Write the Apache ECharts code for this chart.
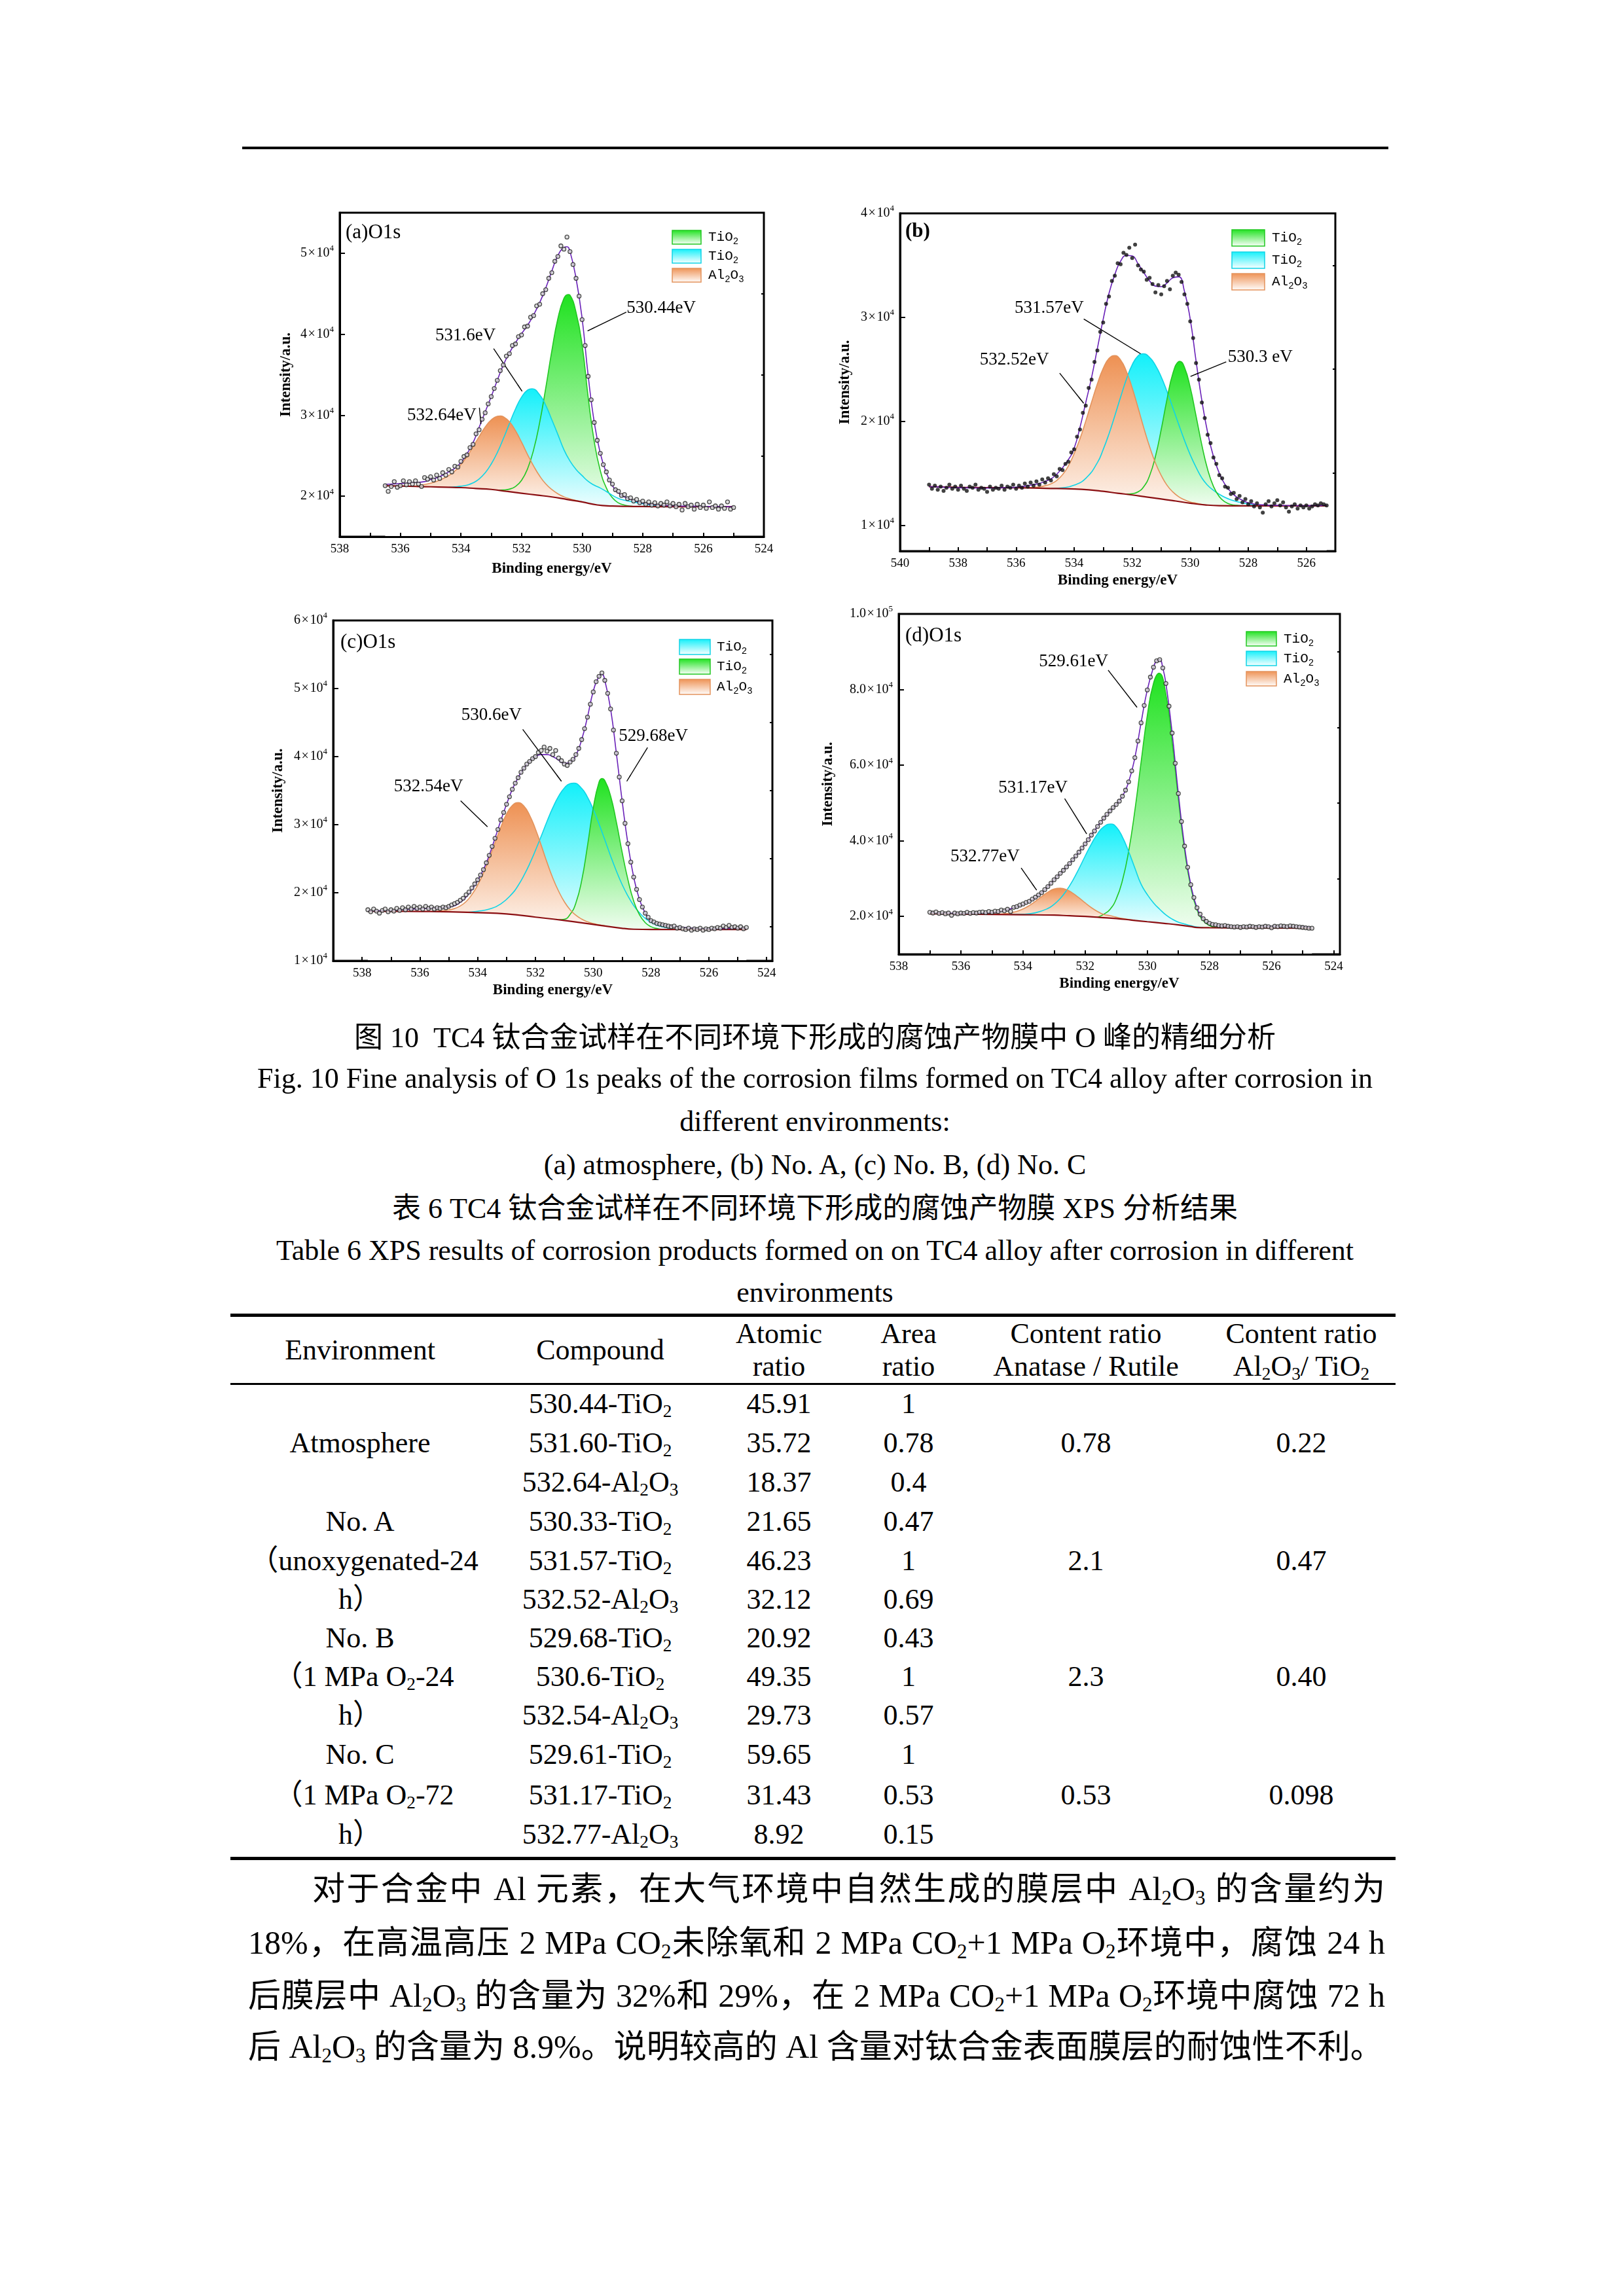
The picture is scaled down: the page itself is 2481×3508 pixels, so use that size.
<!DOCTYPE html>
<html><head><meta charset="utf-8">
<script src="https://cdn.jsdelivr.net/npm/echarts@6/dist/echarts.min.js"></script>
<style>
html,body{margin:0;padding:0;background:#fff;}
#page{position:relative;width:2481px;height:3508px;background:#fff;overflow:hidden;font-family:"Liberation Serif","Noto Sans CJK SC",serif;color:#000;}
#chart{position:absolute;left:0;top:0;width:2481px;height:1560px;}
.cap{position:absolute;left:0;width:2490px;text-align:center;font-size:44px;line-height:60px;white-space:pre;}
.cell{position:absolute;transform:translate(-50%,-50%);font-size:44px;line-height:50px;white-space:pre;text-align:center;}
.rule{position:absolute;background:#000;}
.para{position:absolute;font-size:50px;line-height:80px;height:80px;white-space:normal;}
.just{text-align:justify;text-align-last:justify;}
sub{font-size:0.62em;vertical-align:-0.22em;line-height:0;}
</style></head>
<body><div id="page"><div id="chart"></div></div>
<script>
// ---------------- DATA ----------------
// (a) atmosphere
const bgA=[[536.5,21300],[536,21260],[535.5,21200],[535,21160],[534.5,21110],[534,21060],[533.5,20950],[533,20840],[532.5,20600],[532,20370],[531.5,20140],[531,19910],[530.5,19600],[530,19290],[529.5,18920],[529,18790],[528.5,18740],[528,18720],[527,18710],[526,18700],[525,18700]];
const alA=[[535.6,21220],[535.4,21330],[535.2,21450],[535,21600],[534.8,21820],[534.6,22150],[534.4,22550],[534.2,23100],[534,23900],[533.8,24900],[533.6,26100],[533.4,27350],[533.2,28530],[533,29420],[532.8,29870],[532.7,29910],[532.6,29815],[532.4,29200],[532.2,28090],[532,26680],[531.8,25140],[531.6,23720],[531.4,22490],[531.2,21520],[531,20820],[530.8,20295],[530.6,19920],[530.4,19670],[530.2,19465],[530,19300]];
const tiA1=[[532.8,20750],[532.6,20770],[532.4,20870],[532.2,21200],[532,21950],[531.8,23390],[531.6,25740],[531.4,29110],[531.2,33360],[531,37930],[530.8,41930],[530.6,44420],[530.46,44900],[530.4,44830],[530.2,42710],[530,38690],[529.8,32230],[529.6,26760],[529.4,23160],[529.2,21030],[529,19800],[528.8,19170],[528.6,18900],[528.4,18780],[528.2,18730],[528,18720]];
const tiA2=[[534.4,21100],[534.2,21160],[534,21230],[533.8,21370],[533.6,21640],[533.4,22120],[533.2,22880],[533,23970],[532.8,25380],[532.6,27100],[532.4,28950],[532.2,30760],[532,32220],[531.8,33100],[531.65,33260],[531.4,32510],[531.2,31220],[531,29440],[530.8,27620],[530.6,25740],[530.4,24340],[530.2,23310],[530,22540],[529.8,21830],[529.6,21360],[529.4,21010],[529.2,20580],[529,20100],[528.8,19720],[528.6,19500],[528.4,19340],[528.2,19210],[528,19070],[527.8,18940],[527.6,18820],[527.4,18720]];
const envA=[[536.5,21460],[536,21560],[535.6,21680],[535.2,21800],[535,22050],[534.8,22270],[534.6,22600],[534.4,23010],[534.2,23460],[534,24150],[533.8,25240],[533.6,26600],[533.4,28500],[533.2,30400],[533,32300],[532.8,34300],[532.6,36200],[532.4,37700],[532.2,38950],[532,40050],[531.8,41100],[531.6,42400],[531.4,43900],[531.2,45700],[531,47800],[530.8,49700],[530.6,50700],[530.5,50800],[530.4,50200],[530.2,46900],[530,41950],[529.8,34900],[529.6,29150],[529.4,25300],[529.2,22900],[529,21300],[528.8,20400],[528.6,19900],[528.4,19600],[528.2,19350],[528,19150],[527.6,18950],[527,18820],[526,18750],[525,18700]];
const dotsA=[[536.5,21300],[536.4,20600],[536.3,21200],[536.2,21800],[536.1,21100],[536,21300],[535.9,21900],[535.8,21400],[535.7,21800],[535.6,21500],[535.5,21900],[535.4,21500],[535.3,21200],[535.2,22300],[535.1,22100],[535,22400],[534.9,22000],[534.8,22600],[534.7,22200],[534.6,22900],[534.5,22600],[534.4,23300],[534.3,23000],[534.2,23700],[534.1,23600],[534,24300],[533.9,24900],[533.8,25100],[533.7,26000],[533.6,26400],[533.5,27700],[533.4,28200],[533.3,29500],[533.2,30300],[533.1,31400],[533,32300],[532.9,33300],[532.8,34300],[532.7,35500],[532.6,36200],[532.5,37300],[532.4,37600],[532.3,38600],[532.2,38800],[532.1,39700],[532,39900],[531.9,40900],[531.8,41000],[531.7,42100],[531.6,42300],[531.5,43500],[531.4,43700],[531.3,45000],[531.2,45500],[531.1,46900],[531,47600],[530.9,49000],[530.8,49600],[530.7,50900],[530.6,50500],[530.5,52000],[530.4,50200],[530.3,48600],[530.2,46900],[530.1,44700],[530,41800],[529.9,38600],[529.8,34800],[529.7,31900],[529.6,29100],[529.5,26900],[529.4,25300],[529.3,23900],[529.2,23000],[529.1,22000],[529,21500],[528.9,20800],[528.8,20600],[528.7,20100],[528.6,20200],[528.5,19700],[528.4,19800],[528.3,19400],[528.2,19600],[528.1,19200],[528,19400],[527.9,19000],[527.8,19300],[527.7,18900],[527.6,19200],[527.5,18800],[527.4,19100],[527.3,18900],[527.2,19300],[527.1,18800],[527,19100],[526.9,18700],[526.8,19000],[526.7,18300],[526.6,19100],[526.5,18700],[526.4,18900],[526.3,18400],[526.2,19000],[526.1,18600],[526,18900],[525.9,18500],[525.8,19300],[525.7,18600],[525.6,18800],[525.5,18400],[525.4,18800],[525.3,18500],[525.2,19300],[525.1,18400],[525,18600]];

// (b) No. A
const bgB=[[539,13700],[538,13640],[537,13610],[536,13600],[535,13540],[534,13480],[533.5,13400],[533,13250],[532.5,13070],[532,12900],[531.5,12700],[531,12520],[530.5,12320],[530,12110],[529.5,11950],[529,11870],[528,11850],[527,11850],[526,11850],[525.3,11850]];
const alB=[[535.6,13580],[535.4,13620],[535.2,13680],[535,13790],[534.8,13970],[534.6,14300],[534.4,14850],[534.2,15690],[534,16880],[533.8,18310],[533.6,20010],[533.4,21830],[533.2,23590],[533,25080],[532.8,26040],[532.6,26320],[532.4,25890],[532.2,24790],[532,23200],[531.8,21310],[531.6,19350],[531.4,17540],[531.2,15990],[531,14780],[530.8,13840],[530.6,13190],[530.4,12740],[530.2,12440],[530,12230],[529.8,12110],[529.6,11990]];
const tiB2=[[534.8,13520],[534.4,13590],[534,13840],[533.6,14500],[533.2,16010],[533,17270],[532.8,18780],[532.6,20510],[532.4,22310],[532.2,24030],[532,25430],[531.8,26280],[531.62,26490],[531.4,26140],[531.2,25380],[531,24260],[530.8,22850],[530.6,21300],[530.4,19710],[530.2,18170],[530,16770],[529.8,15570],[529.6,14540],[529.4,13830],[529.2,13350],[529,12970],[528.8,12660],[528.6,12430],[528.4,12270],[528.2,12150],[528,12030],[527.8,11930],[527.6,11850]];
const tiB1=[[532.2,12990],[532,13030],[531.8,13200],[531.6,13700],[531.4,14760],[531.2,16600],[531,19200],[530.8,22120],[530.6,24590],[530.4,25740],[530.36,25760],[530.2,25190],[530,23250],[529.8,20510],[529.6,17710],[529.4,15360],[529.2,13730],[529,12740],[528.8,12230],[528.6,11990],[528.4,11900],[528.2,11850]];
const envB=[[539,13700],[538.5,13650],[538,13600],[537.5,13580],[537,13560],[536.5,13600],[536,13650],[535.5,13850],[535,14200],[534.6,14900],[534.2,16300],[534,17400],[533.8,19400],[533.6,21800],[533.4,24200],[533.2,27000],[533,29800],[532.8,32300],[532.6,34100],[532.4,35400],[532.2,35950],[532,35900],[531.8,35160],[531.6,34300],[531.4,33500],[531.2,33000],[531,32950],[530.8,33300],[530.6,33800],[530.4,33900],[530.2,32500],[530,29800],[529.8,25800],[529.6,22000],[529.4,18900],[529.2,16600],[529,15000],[528.8,13900],[528.6,13200],[528.4,12700],[528.2,12400],[528,12150],[527.5,11950],[527,11900],[526,11870],[525.3,11900]];
const dotsB=[[539,13900],[538.9,13500],[538.8,13800],[538.7,13400],[538.6,13700],[538.5,13300],[538.4,13600],[538.3,13900],[538.2,13500],[538.1,13700],[538,13400],[537.9,13800],[537.8,13500],[537.7,13300],[537.6,13700],[537.5,13600],[537.4,13900],[537.3,13400],[537.2,13600],[537.1,13500],[537,13200],[536.9,13700],[536.8,13400],[536.7,13600],[536.6,13500],[536.5,13800],[536.4,13400],[536.3,13700],[536.2,13600],[536.1,13900],[536,13500],[535.9,13800],[535.8,13600],[535.7,14000],[535.6,13700],[535.5,14100],[535.4,13800],[535.3,14200],[535.2,13900],[535.1,14400],[535,14100],[534.9,14500],[534.8,14300],[534.7,14900],[534.6,14700],[534.5,15400],[534.4,15300],[534.3,15900],[534.2,16100],[534.1,17000],[534,17300],[533.9,18500],[533.8,19200],[533.7,20800],[533.6,21500],[533.5,23200],[533.4,24000],[533.3,25700],[533.2,26800],[533.1,28600],[533,29500],[532.9,31300],[532.8,32000],[532.7,33500],[532.6,34000],[532.5,35200],[532.4,35100],[532.3,36200],[532.2,36000],[532.1,36700],[532,35700],[531.9,37000],[531.8,35000],[531.7,34600],[531.6,34400],[531.5,33600],[531.4,33800],[531.3,33200],[531.2,32400],[531.1,33100],[531,32200],[530.9,33000],[530.8,33500],[530.7,32700],[530.6,34000],[530.5,34300],[530.4,34100],[530.3,33400],[530.2,32200],[530.1,31300],[530,29600],[529.9,28000],[529.8,25600],[529.7,24000],[529.6,21800],[529.5,20300],[529.4,18700],[529.3,17900],[529.2,16500],[529.1,15900],[529,14800],[528.9,14500],[528.8,13700],[528.7,13600],[528.6,13000],[528.5,13100],[528.4,12500],[528.3,12800],[528.2,12200],[528.1,12500],[528,12000],[527.9,12300],[527.8,11800],[527.7,12100],[527.6,11700],[527.5,11200],[527.4,12000],[527.3,12300],[527.2,11800],[527.1,12100],[527,12400],[526.9,11900],[526.8,12200],[526.7,11700],[526.6,11300],[526.5,11800],[526.4,12000],[526.3,11600],[526.2,11900],[526.1,11700],[526,11900],[525.9,11600],[525.8,11800],[525.7,12000],[525.6,11900],[525.5,12100],[525.4,12000],[525.3,11900]];

// (c) No. B
const bgC=[[537.8,17300],[537,17280],[536,17250],[535,17200],[534,17070],[533,16880],[532,16420],[531,15920],[530,15350],[529,14780],[528.6,14640],[528,14600],[527,14600],[526,14600],[524.7,14600]];
const alC=[[535.6,17230],[535.4,17280],[535.2,17350],[535,17470],[534.8,17680],[534.6,18070],[534.4,18700],[534.2,19730],[534,21110],[533.8,22890],[533.6,25030],[533.4,27340],[533.2,29610],[533,31570],[532.8,32820],[532.6,33240],[532.4,32730],[532.2,31370],[532,29350],[531.8,26960],[531.6,24460],[531.4,22160],[531.2,20240],[531,18680],[530.8,17510],[530.6,16690],[530.4,16130],[530.2,15740],[530,15480],[529.8,15290],[529.6,15130]];
const tiC2=[[534.4,17120],[534,17280],[533.6,17590],[533.2,18360],[532.8,19890],[532.6,21060],[532.4,22540],[532.2,24260],[532,26220],[531.8,28320],[531.6,30480],[531.4,32480],[531.2,34170],[531,35390],[530.8,36040],[530.67,36100],[530.4,35340],[530.2,34060],[530,32260],[529.8,30110],[529.6,27780],[529.4,25410],[529.2,23200],[529,21200],[528.8,19530],[528.6,18120],[528.4,17060],[528.2,16230],[528,15660],[527.8,15250],[527.6,15000],[527.4,14800],[527.2,14650],[527,14600]];
const tiC1=[[531.2,16020],[531,16100],[530.8,16820],[530.6,18500],[530.4,21790],[530.2,26870],[530,32430],[529.8,36260],[529.69,36780],[529.6,36480],[529.4,34230],[529.2,30390],[529,25950],[528.8,21930],[528.6,18780],[528.4,16760],[528.2,15600],[528,15010],[527.8,14750],[527.6,14600]];
const envC=[[537.8,17340],[537,17400],[536.5,17550],[536,17650],[535.5,17750],[535,17900],[534.6,18600],[534.3,19900],[534,21800],[533.8,23400],[533.6,25500],[533.4,28000],[533.2,30600],[533,33000],[532.8,35200],[532.6,36900],[532.4,38300],[532.2,39300],[532,40000],[531.8,40300],[531.6,40300],[531.4,40000],[531.2,39500],[531,39000],[530.8,39200],[530.6,40200],[530.4,42500],[530.2,45800],[530,49600],[529.8,51800],[529.7,52100],[529.6,51200],[529.4,47000],[529.2,40500],[529,33500],[528.8,27200],[528.6,22300],[528.4,19000],[528.2,17000],[528,15900],[527.6,15300],[527,14950],[526,14700],[525,14800],[524.7,14800]];
const dotsC=[[537.8,17500],[537.7,17200],[537.6,17600],[537.5,17300],[537.4,17000],[537.3,17400],[537.2,17600],[537.1,17200],[537,17500],[536.9,17300],[536.8,17700],[536.7,17400],[536.6,17800],[536.5,17500],[536.4,17900],[536.3,17600],[536.2,18000],[536.1,17700],[536,17900],[535.9,17600],[535.8,18000],[535.7,17700],[535.6,17900],[535.5,17600],[535.4,17800],[535.3,17700],[535.2,17900],[535.1,17800],[535,18000],[534.9,18200],[534.8,18400],[534.7,18600],[534.6,18900],[534.5,19200],[534.4,19700],[534.3,20100],[534.2,20700],[534.1,21300],[534,21900],[533.9,22600],[533.8,23400],[533.7,24400],[533.6,25500],[533.5,26800],[533.4,28000],[533.3,29300],[533.2,30700],[533.1,31800],[533,33000],[532.9,34100],[532.8,35200],[532.7,36100],[532.6,36900],[532.5,37700],[532.4,38300],[532.3,38900],[532.2,39300],[532.1,39700],[532,40000],[531.9,40600],[531.8,40900],[531.7,41400],[531.6,40800],[531.5,41200],[531.4,40300],[531.3,40900],[531.2,39800],[531.1,39400],[531,38900],[530.9,38700],[530.8,39200],[530.7,39600],[530.6,40300],[530.5,41200],[530.4,42500],[530.3,44100],[530.2,45800],[530.1,47700],[530,49500],[529.9,51000],[529.8,51800],[529.7,52300],[529.6,51200],[529.5,49300],[529.4,47000],[529.3,43900],[529.2,40500],[529.1,37000],[529,33500],[528.9,30200],[528.8,27200],[528.7,24500],[528.6,22300],[528.5,20500],[528.4,19000],[528.3,17900],[528.2,17000],[528.1,16400],[528,15900],[527.9,15700],[527.8,15500],[527.7,15400],[527.6,15300],[527.5,15200],[527.4,15100],[527.3,15000],[527.2,15100],[527.1,14800],[527,14900],[526.9,14700],[526.8,14600],[526.7,14800],[526.6,14500],[526.5,14700],[526.4,14600],[526.3,14800],[526.2,14500],[526.1,14700],[526,14600],[525.9,14800],[525.8,14700],[525.7,14900],[525.6,14800],[525.5,15100],[525.4,14900],[525.3,15200],[525.2,14900],[525.1,15000],[525,14800],[524.9,15000],[524.8,14700],[524.7,14900]];

// (d) No. C
const bgD=[[537,20690],[536,20620],[535,20550],[534,20460],[533,20350],[532.5,20180],[532,20000],[531.5,19730],[531,19450],[530.5,19030],[530,18610],[529.5,18200],[529,17780],[528.6,17320],[528.4,17090],[528,17020],[527,16960],[526,16920],[524.7,16880]];
const alD=[[535,20570],[534.8,20630],[534.6,20725],[534.4,20950],[534.2,21340],[534,21980],[533.8,22880],[533.6,24010],[533.4,25270],[533.2,26410],[533,27240],[532.8,27460],[532.6,27090],[532.4,26170],[532.2,24940],[532,23590],[531.8,22330],[531.6,21300],[531.4,20530],[531.2,20200],[531,19800],[530.8,19450],[530.6,19200],[530.4,18980]];
const tiD2=[[534.4,20560],[534,20600],[533.6,20970],[533.2,22100],[533,23210],[532.8,24760],[532.6,26860],[532.4,29500],[532.2,32620],[532,35960],[531.8,39160],[531.6,41870],[531.4,43720],[531.17,44430],[531,43650],[530.8,41020],[530.6,37160],[530.4,32810],[530.2,28540],[530,25800],[529.8,23600],[529.6,21900],[529.4,20400],[529.2,19300],[529,18500],[528.8,18000],[528.6,17550],[528.4,17200],[528.2,17060]];
const tiD1=[[531.6,19780],[531.4,20590],[531.2,21860],[531,24600],[530.8,29520],[530.6,37210],[530.4,48000],[530.2,60790],[530,73100],[529.8,81660],[529.62,84310],[529.4,78740],[529.2,66230],[529,51140],[528.8,37600],[528.6,27760],[528.4,21780],[528.2,18910],[528,17620],[527.8,17100],[527.6,16990]];
const envD=[[537,21040],[536.5,20900],[536,20830],[535.5,20900],[535,21040],[534.6,21600],[534.2,22600],[533.8,24000],[533.4,26300],[533,29700],[532.6,33100],[532.2,37000],[531.8,41500],[531.4,46000],[531,49600],[530.8,51800],[530.6,55600],[530.4,62000],[530.2,71200],[530,79900],[529.8,85900],[529.7,87600],[529.6,87900],[529.5,85700],[529.4,81600],[529.2,68500],[529,52500],[528.8,38600],[528.6,28400],[528.4,22300],[528.2,19400],[528,18200],[527.6,17500],[527.2,17300],[527,17230],[526,17370],[525,17300],[524.7,16950]];
const dotsD=[[537,21100],[536.9,20900],[536.8,21200],[536.7,20800],[536.6,21000],[536.5,20700],[536.4,20900],[536.3,20300],[536.2,20900],[536.1,20700],[536,20900],[535.9,20800],[535.8,21100],[535.7,20800],[535.6,21000],[535.5,20900],[535.4,21100],[535.3,21200],[535.2,21000],[535.1,21300],[535,21100],[534.9,21400],[534.8,21300],[534.7,21700],[534.6,21500],[534.5,21900],[534.4,21300],[534.3,22400],[534.2,22600],[534.1,23000],[534,23300],[533.9,23700],[533.8,24000],[533.7,24600],[533.6,25100],[533.5,25700],[533.4,26300],[533.3,27100],[533.2,27900],[533.1,28800],[533,29700],[532.9,30500],[532.8,31400],[532.7,32200],[532.6,33100],[532.5,34000],[532.4,35000],[532.3,36000],[532.2,37000],[532.1,38100],[532,39200],[531.9,40300],[531.8,41500],[531.7,42600],[531.6,43800],[531.5,44900],[531.4,46000],[531.3,47000],[531.2,47900],[531.1,48800],[531,49600],[530.9,50500],[530.8,51800],[530.7,53400],[530.6,55600],[530.5,58500],[530.4,62000],[530.3,66400],[530.2,71200],[530.1,75800],[530,79900],[529.9,83300],[529.8,85900],[529.7,87600],[529.6,87900],[529.5,85700],[529.4,81600],[529.3,75600],[529.2,68500],[529.1,60500],[529,52500],[528.9,45100],[528.8,38600],[528.7,33000],[528.6,28400],[528.5,25000],[528.4,22300],[528.3,20600],[528.2,19400],[528.1,18700],[528,18200],[527.9,17900],[527.8,17800],[527.7,17600],[527.6,17500],[527.5,17600],[527.4,17400],[527.3,17300],[527.2,17200],[527.1,17300],[527,17100],[526.9,17300],[526.8,17200],[526.7,17400],[526.6,17300],[526.5,17100],[526.4,17300],[526.3,17200],[526.2,17400],[526.1,17300],[526,17000],[525.9,17400],[525.8,17300],[525.7,17500],[525.6,17400],[525.5,17300],[525.4,17500],[525.3,17400],[525.2,17300],[525.1,17200],[525,17100],[524.9,17000],[524.8,16900],[524.7,16900]];

// axis ticks / labels
const xTicksA=[524,525,526,527,528,529,530,531,532,533,534,535,536,537,538];
const xLabelsA=[524,526,528,530,532,534,536,538];
const xTicksB=[525,526,527,528,529,530,531,532,533,534,535,536,537,538,539,540];
const xLabelsB=[526,528,530,532,534,536,538,540];
const xTicksC=[524,525,526,527,528,529,530,531,532,533,534,535,536,537,538,539];
const xLabelsC=[524,526,528,530,532,534,536,538];
const xTicksD=[524,525,526,527,528,529,530,531,532,533,534,535,536,537,538];
const xLabelsD=[524,526,528,530,532,534,536,538];
const yMajorA=[20000,30000,40000,50000], yMinorA=[25000,35000,45000];
const yMajorB=[10000,20000,30000,40000], yMinorB=[15000,25000,35000];
const yMajorC=[10000,20000,30000,40000,50000,60000], yMinorC=[15000,25000,35000,45000,55000];
const yMajorD=[20000,40000,60000,80000,100000], yMinorD=[30000,50000,70000,90000];

// peak annotations: [text, textPos[x,y], arrowFrom, arrowTo]
const annA=[["530.44eV",[527.39,43200],[528.54,42730],[529.82,40400]],["531.6eV",[533.85,39810],[532.92,38230],[531.98,32950]],["532.64eV",[534.63,29950],[533.39,30930],[533.34,28910]]];
const annB=[["531.57eV",[534.86,30870],[533.67,29830],[531.71,26490]],["532.52eV",[536.06,25890],[534.50,24620],[533.67,21720]],["530.3 eV",[527.59,26140],[528.76,25710],[529.99,24310]]];
const annC=[["530.6eV",[533.52,46060],[532.44,44010],[531.10,36370]],["529.68eV",[527.92,42980],[528.12,41330],[528.84,36370]],["532.54eV",[535.70,35580],[534.59,33500],[533.66,29680]]];
const annD=[["529.61eV",[532.37,87370],[531.26,85140],[530.33,75300]],["531.17eV",[533.68,53960],[532.66,51190],[531.95,41830]],["532.77eV",[535.22,35790],[534.06,32820],[533.56,26930]]];

// table
const tableHeader=[["Environment"],["Compound"],["Atomic","ratio"],["Area","ratio"],["Content ratio","Anatase / Rutile"],["Content ratio","Al_2O_3/ TiO_2"]];
const envLabels=[["","Atmosphere",""],["No. A","（unoxygenated-24","h）"],["No. B","（1 MPa O_2-24","h）"],["No. C","（1 MPa O_2-72","h）"]];
const compounds=["530.44-TiO_2","531.60-TiO_2","532.64-Al_2O_3","530.33-TiO_2","531.57-TiO_2","532.52-Al_2O_3","529.68-TiO_2","530.6-TiO_2","532.54-Al_2O_3","529.61-TiO_2","531.17-TiO_2","532.77-Al_2O_3"];
const atomicRatio=["45.91","35.72","18.37","21.65","46.23","32.12","20.92","49.35","29.73","59.65","31.43","8.92"];
const areaRatio=["1","0.78","0.4","0.47","1","0.69","0.43","1","0.57","1","0.53","0.15"];
const anataseRutile=["0.78","2.1","2.3","0.53"];
const al2o3TiO2=["0.22","0.47","0.40","0.098"];

const captions=["图 10  TC4 钛合金试样在不同环境下形成的腐蚀产物膜中 O 峰的精细分析","Fig. 10 Fine analysis of O 1s peaks of the corrosion films formed on TC4 alloy after corrosion in","different environments:","(a) atmosphere, (b) No. A, (c) No. B, (d) No. C","表 6 TC4 钛合金试样在不同环境下形成的腐蚀产物膜 XPS 分析结果","Table 6 XPS results of corrosion products formed on on TC4 alloy after corrosion in different","environments"];
const paragraph=["对于合金中 Al 元素，在大气环境中自然生成的膜层中 Al_2O_3 的含量约为","18%，在高温高压 2 MPa CO_2未除氧和 2 MPa CO_2+1 MPa O_2环境中，腐蚀 24 h","后膜层中 Al_2O_3 的含量为 32%和 29%，在 2 MPa CO_2+1 MPa O_2环境中腐蚀 72 h","后 Al_2O_3 的含量为 8.9%。说明较高的 Al 含量对钛合金表面膜层的耐蚀性不利。"];

// ---------------- STYLE / LAYOUT ----------------
const FONT='"Liberation Serif","Times New Roman",serif';
const PAL={green:{top:'#1fe21f',line:'#22c722',pale:'#f0fdf0'},cyan:{top:'#12f0fa',line:'#10d4e6',pale:'#eefdfe'},orange:{top:'#ee9153',line:'#e3935c',pale:'#fdf3ec'}};
const panels=[
 {grid:[519,325,648,495],xr:[524,538],yr:[15000,55000],xT:xTicksA,xL:xLabelsA,yM:yMajorA,ym:yMinorA,dec:0,yGap:70,xGap:38,
  comps:[[tiA1,'green'],[tiA2,'cyan'],[alA,'orange']],bg:bgA,env:envA,dots:dotsA,hollow:true,ann:annA,
  title:['(a)O1s',528,356,'normal'],leg:{x:1027,ys:[352,381,410],w:44,h:21,tx:1082,items:[['green','TiO_2'],['cyan','TiO_2'],['orange','Al_2O_3']]}},
 {grid:[1375,326,665,516],xr:[525,540],yr:[7500,40000],xT:xTicksB,xL:xLabelsB,yM:yMajorB,ym:yMinorB,dec:0,yGap:72,xGap:34,
  comps:[[tiB2,'cyan'],[tiB1,'green'],[alB,'orange']],bg:bgB,env:envB,dots:dotsB,hollow:false,ann:annB,
  title:['(b)',1383,354,'bold'],leg:{x:1882,ys:[351,385,418],w:50,h:25,tx:1943,items:[['green','TiO_2'],['cyan','TiO_2'],['orange','Al_2O_3']]}},
 {grid:[509,948,671,520],xr:[523.8,539],yr:[10000,60000],xT:xTicksC,xL:xLabelsC,yM:yMajorC,ym:yMinorC,dec:0,yGap:72,xGap:34,
  comps:[[tiC2,'cyan'],[tiC1,'green'],[alC,'orange']],bg:bgC,env:envC,dots:dotsC,hollow:true,ann:annC,
  title:['(c)O1s',520,982,'normal'],leg:{x:1038,ys:[977,1007,1038],w:47,h:23,tx:1095,items:[['cyan','TiO_2'],['green','TiO_2'],['orange','Al_2O_3']]}},
 {grid:[1373,938,674,520],xr:[523.8,538],yr:[10000,100000],xT:xTicksD,xL:xLabelsD,yM:yMajorD,ym:yMinorD,dec:1,yGap:96,xGap:34,
  comps:[[tiD1,'green'],[tiD2,'cyan'],[alD,'orange']],bg:bgD,env:envD,dots:dotsD,hollow:true,ann:annD,
  title:['(d)O1s',1383,972,'normal'],leg:{x:1904,ys:[965,995,1026],w:46,h:22,tx:1961,items:[['green','TiO_2'],['cyan','TiO_2'],['orange','Al_2O_3']]}}
];

const HS='\u200A';
function sciFmt(dec){return function(v){const e=Math.floor(Math.log10(v)+1e-9);const m=v/Math.pow(10,e);return '{m|'+m.toFixed(dec)+HS+'×'+HS+'10}{e|'+e+'}';};}
function richSub(s){return '{t|'+s.replace(/_(\d)/g,'}{s|$1}{t|')+'}';}

const chart=echarts.init(document.getElementById('chart'),null,{renderer:'canvas',width:2481,height:1560});
const option={animation:false,backgroundColor:'#fff',grid:[],xAxis:[],yAxis:[],series:[],graphic:[]};
const nameStyle={fontFamily:FONT,fontWeight:'bold',fontSize:23,color:'#000'};
panels.forEach((p,i)=>{
 option.grid.push({left:p.grid[0],top:p.grid[1],width:p.grid[2],height:p.grid[3],show:true,borderColor:'#000',borderWidth:3,backgroundColor:'rgba(0,0,0,0)',containLabel:false,outerBoundsMode:'none'});
 option.xAxis.push({type:'value',gridIndex:i,inverse:true,min:p.xr[0],max:p.xr[1],z:10,
  axisLine:{show:true,onZero:false,lineStyle:{color:'#000',width:3}},
  axisTick:{show:true,inside:true,length:6,customValues:p.xT,lineStyle:{color:'#000',width:2}},
  axisLabel:{show:true,customValues:p.xL,margin:10,color:'#000',fontSize:19,fontFamily:FONT,showMinLabel:true,showMaxLabel:true},
  splitLine:{show:false},minorTick:{show:false},
  name:'Binding energy/eV',nameLocation:'middle',nameGap:p.xGap,nameTextStyle:nameStyle,nameMoveOverlap:false});
 option.yAxis.push({type:'value',gridIndex:i,min:p.yr[0],max:p.yr[1],z:10,
  axisLine:{show:true,onZero:false,lineStyle:{color:'#000',width:3}},
  axisTick:{show:true,inside:true,length:8,customValues:p.yM,lineStyle:{color:'#000',width:2}},
  axisLabel:{show:true,customValues:p.yM,margin:9,formatter:sciFmt(p.dec),showMinLabel:true,showMaxLabel:true,
   rich:{m:{fontSize:20,fontFamily:FONT,color:'#000',lineHeight:27},e:{fontSize:13,fontFamily:FONT,color:'#000',verticalAlign:'top'}}},
  splitLine:{show:false},
  name:'Intensity/a.u.',nameLocation:'middle',nameRotate:90,nameGap:p.yGap,nameTextStyle:nameStyle,nameMoveOverlap:false});
 option.yAxis.push({type:'value',gridIndex:i,min:p.yr[0],max:p.yr[1],z:10,
  axisLine:{show:false},axisLabel:{show:false},splitLine:{show:false},
  axisTick:{show:true,inside:true,length:4,customValues:p.ym,lineStyle:{color:'#000',width:2}}});
 const yi=2*i;
 p.comps.forEach(([data,col])=>{
  const vals=data.map(d=>d[1]);const mx=Math.max.apply(null,vals),mn=Math.min.apply(null,vals);
  const off=Math.min(0.97,(mx-mn)/(mx-p.yr[0]));
  option.series.push({type:'line',xAxisIndex:i,yAxisIndex:yi,data:data,smooth:0.5,symbol:'none',z:2,
   lineStyle:{color:PAL[col].line,width:1.6},
   areaStyle:{origin:'start',opacity:1,color:new echarts.graphic.LinearGradient(0,0,0,1,[{offset:0,color:PAL[col].top},{offset:off,color:PAL[col].pale},{offset:1,color:'#ffffff'}])}});
 });
 option.series.push({type:'line',xAxisIndex:i,yAxisIndex:yi,data:p.bg,smooth:0.5,symbol:'none',z:3,
  lineStyle:{color:'#8b0f12',width:2.2},areaStyle:{origin:'start',opacity:1,color:'#ffffff'}});
 option.series.push({type:'line',xAxisIndex:i,yAxisIndex:yi,data:p.env,smooth:0.5,symbol:'none',z:4,
  lineStyle:{color:'#6a22b8',width:1.6},
  markLine:{silent:true,animation:false,symbol:['none','arrow'],symbolSize:[1,13],
   lineStyle:{color:'#000',width:1.4,type:'solid'},label:{show:false},
   data:p.ann.map(a=>[{coord:a[2]},{coord:a[3]}])},
  markPoint:{silent:true,animation:false,symbol:'circle',symbolSize:1,itemStyle:{color:'rgba(0,0,0,0)'},
   data:p.ann.map(a=>({coord:a[1],label:{show:true,position:'inside',formatter:a[0],color:'#000',fontSize:27,fontFamily:FONT}}))}});
 option.series.push({type:'scatter',xAxisIndex:i,yAxisIndex:yi,data:p.dots,z:5,symbol:'circle',symbolSize:6,
  itemStyle:p.hollow?{color:'#d4d4d4',borderColor:'#222',borderWidth:1.3}:{color:'#111',borderWidth:0}});
 // title
 option.graphic.push({type:'text',x:p.title[1],y:p.title[2],z:20,style:{text:p.title[0],fontSize:31,fontFamily:FONT,fontWeight:p.title[3],fill:'#000',verticalAlign:'middle',align:'left'}});
 // legend
 p.leg.items.forEach((it,k)=>{
  const c=PAL[it[0]];
  option.graphic.push({type:'rect',z:20,shape:{x:p.leg.x,y:p.leg.ys[k],width:p.leg.w,height:p.leg.h},
   style:{fill:new echarts.graphic.LinearGradient(0,0,0,1,[{offset:0,color:c.top},{offset:1,color:'#ffffff'}]),stroke:c.line,lineWidth:1.5}});
  option.graphic.push({type:'text',z:20,x:p.leg.tx,y:p.leg.ys[k]+p.leg.h/2,style:{text:richSub(it[1]),verticalAlign:'middle',align:'left',fill:'#000',
   rich:{t:{fontSize:21,fontFamily:'"Liberation Mono",monospace',fill:'#000',lineHeight:28},s:{fontSize:14,fontFamily:'"Liberation Mono",monospace',fill:'#000',verticalAlign:'bottom'}}}});
 });
});
chart.setOption(option);

// ---------------- PAGE TEXT ----------------
const page=document.getElementById('page');
function fmt(s){return s.replace(/_(\d)/g,'<sub>$1</sub>');}
function add(cls,html,css){const d=document.createElement('div');d.className=cls;d.innerHTML=html;Object.assign(d.style,css);page.appendChild(d);return d;}
add('rule','',{left:'370px',top:'224px',width:'1751px',height:'4px'});
const capY=[1586,1648,1714,1780,1847,1911,1975];
captions.forEach((t,k)=>add('cap',fmt(t),{top:(capY[k]-30)+'px'}));
// table rules
add('rule','',{left:'352px',top:'2007px',width:'1780px',height:'5px'});
add('rule','',{left:'352px',top:'2113px',width:'1780px',height:'3px'});
add('rule','',{left:'352px',top:'2837px',width:'1780px',height:'5px'});
const colX=[550,917,1190,1388,1659,1988];
const rowY=[2145,2205,2265,2325,2385,2444,2503,2562,2621,2681,2743,2803];
tableHeader.forEach((h,c)=>{
 if(h.length===1) add('cell',fmt(h[0]),{left:colX[c]+'px',top:'2063px'});
 else {add('cell',fmt(h[0]),{left:colX[c]+'px',top:'2038px'});add('cell',fmt(h[1]),{left:colX[c]+'px',top:'2088px'});}
});
envLabels.forEach((g,gi)=>g.forEach((t,r)=>{ if(t) add('cell',fmt(t),{left:(colX[0]+(t.charAt(0)==='（'?6:0))+'px',top:rowY[gi*3+r]+'px'});}));
compounds.forEach((t,r)=>add('cell',fmt(t),{left:colX[1]+'px',top:rowY[r]+'px'}));
atomicRatio.forEach((t,r)=>add('cell',t,{left:colX[2]+'px',top:rowY[r]+'px'}));
areaRatio.forEach((t,r)=>add('cell',t,{left:colX[3]+'px',top:rowY[r]+'px'}));
anataseRutile.forEach((t,g)=>add('cell',t,{left:colX[4]+'px',top:rowY[g*3+1]+'px'}));
al2o3TiO2.forEach((t,g)=>add('cell',t,{left:colX[5]+'px',top:rowY[g*3+1]+'px'}));
// paragraph
const parY=[2886,2968,3049,3127];
paragraph.forEach((t,k)=>{
 const left=k===0?477:379;
 add('para'+(k<3?' just':''),fmt(t),{left:left+'px',top:(parY[k]-40)+'px',width:(k<3?(2116-left):1760)+'px'});
});
</script></body></html>
